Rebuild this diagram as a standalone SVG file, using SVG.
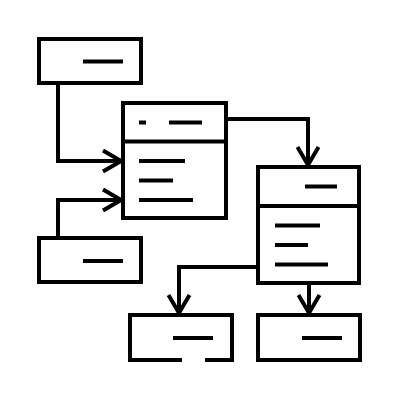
<svg xmlns="http://www.w3.org/2000/svg" width="400" height="400" viewBox="0 0 400 400">
<style>
.b{fill:none;stroke:#000;stroke-width:4}
.l{stroke:#000;stroke-width:4;fill:none}
.c{fill:none;stroke:#000;stroke-width:4;stroke-linejoin:miter}
</style>
<defs>
<marker id="ah" viewBox="0 0 22 26" refX="20" refY="13" markerWidth="22" markerHeight="26" markerUnits="userSpaceOnUse" orient="auto">
<path d="M2,2.5 L20,13 L2,23.5" fill="none" stroke="#000" stroke-width="4"/>
</marker>
</defs>
<rect width="400" height="400" fill="#fff"/>
<g id="connectors">
<path class="c" d="M58,83 V161 H121" marker-end="url(#ah)"/>
<path class="c" d="M58,238 V200 H121" marker-end="url(#ah)"/>
<path class="c" d="M226,119 H308 V165" marker-end="url(#ah)"/>
<path class="c" d="M257,267 H179 V313" marker-end="url(#ah)"/>
<path class="c" d="M309,283 V313" marker-end="url(#ah)"/>
</g>
<g id="box-top-left">
<rect class="b" x="39" y="39" width="102" height="44"/>
<line class="l" x1="83" y1="61.5" x2="123" y2="61.5"/>
</g>
<g id="box-bottom-left">
<rect class="b" x="39" y="238" width="102" height="44"/>
<line class="l" x1="83" y1="261" x2="123" y2="261"/>
</g>
<g id="box-middle">
<rect class="b" x="123" y="103" width="103" height="115"/>
<line class="l" x1="123" y1="141.5" x2="226" y2="141.5"/>
<line class="l" x1="139" y1="122.5" x2="146" y2="122.5"/>
<line class="l" x1="169" y1="122.5" x2="202" y2="122.5"/>
<line class="l" x1="139" y1="161" x2="185" y2="161"/>
<line class="l" x1="139" y1="180.5" x2="173" y2="180.5"/>
<line class="l" x1="139" y1="200" x2="193" y2="200"/>
</g>
<g id="box-right">
<rect class="b" x="258" y="167" width="101" height="116"/>
<line class="l" x1="258" y1="206" x2="359" y2="206"/>
<line class="l" x1="305" y1="186.5" x2="337" y2="186.5"/>
<line class="l" x1="275" y1="225.5" x2="320" y2="225.5"/>
<line class="l" x1="275" y1="245" x2="308" y2="245"/>
<line class="l" x1="275" y1="264.5" x2="328" y2="264.5"/>
</g>
<g id="box-bottom-a">
<path class="b" d="M182,360 H130 V315 H232 V360 H205"/>
<line class="l" x1="173" y1="338" x2="213" y2="338"/>
</g>
<g id="box-bottom-b">
<rect class="b" x="258" y="315" width="102" height="45"/>
<line class="l" x1="302" y1="338" x2="342" y2="338"/>
</g>
</svg>
